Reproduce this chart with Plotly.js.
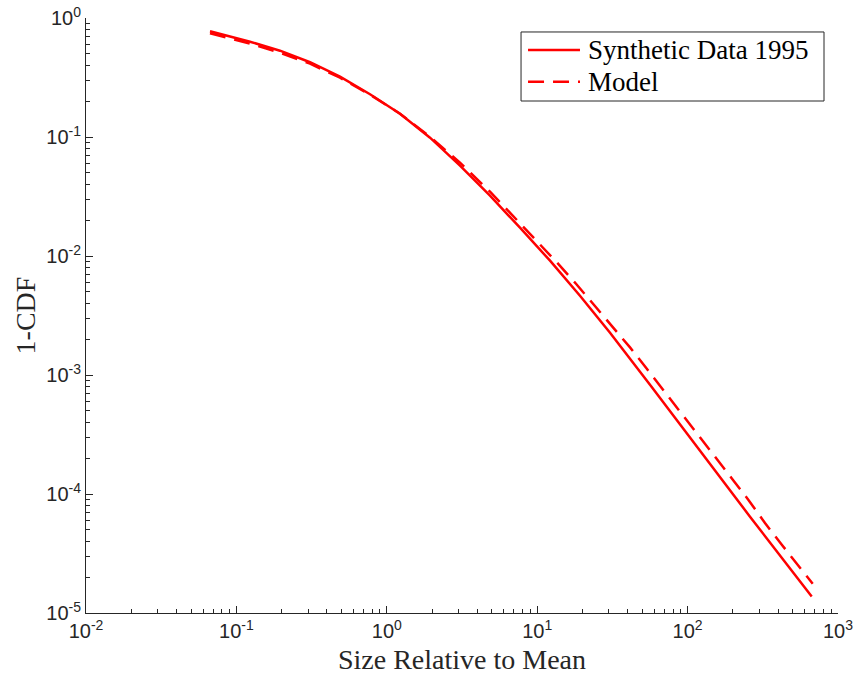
<!DOCTYPE html>
<html>
<head>
<meta charset="utf-8">
<script src="https://cdn.plot.ly/plotly-3.0.1.min.js"></script>
<style>html,body{margin:0;padding:0;background:#fff;}#chart{width:855px;height:679px;}</style>
</head>
<body>
<div id="chart"></div>
<script>
// Synthetic Data 1995 (solid)
const dataX = [0.06674, 0.1232, 0.1949, 0.3086, 0.4885, 0.7733, 1.224, 1.938, 3.067, 4.855, 7.683, 12.17, 19.25, 30.49, 56.23, 103.7, 260.0, 668.7];
const dataY = [0.7744, 0.6322, 0.5312, 0.4251, 0.3211, 0.2289, 0.1570, 0.09865, 0.05738, 0.03211, 0.01729, 0.009130, 0.004638, 0.002267, 0.0008288, 0.0002972, 0.00006446, 0.00001378];
// Model (dashed)
const modelX = [0.06674, 0.1232, 0.1949, 0.3086, 0.4885, 0.7733, 1.224, 1.938, 3.067, 4.855, 7.566, 9.377, 13.75, 18.11, 23.86, 31.44, 41.41, 53.72, 69.68, 90.39, 152.1, 197.4, 256.0, 327.0, 424.3, 550.5, 679.0];
const modelY = [0.7451, 0.6082, 0.5110, 0.4130, 0.3149, 0.2267, 0.1570, 0.1006, 0.06081, 0.03470, 0.01923, 0.01444, 0.008616, 0.005850, 0.003898, 0.002561, 0.001706, 0.001123, 0.0007381, 0.0004756, 0.0002046, 0.0001345, 0.00008785, 0.00005705, 0.00003726, 0.00002449, 0.00001762];

const seriesNames = ['Synthetic Data 1995', 'Model'];

const xTickVals = [0.01, 0.1, 1, 10, 100, 1000];
const xTickText = ['10<sup>-2</sup>', '10<sup>-1</sup>', '10<sup>0</sup>', '10<sup>1</sup>', '10<sup>2</sup>', '10<sup>3</sup>'];
const yTickVals = [0.00001, 0.0001, 0.001, 0.01, 0.1, 1];
const yTickText = ['10<sup>-5</sup>', '10<sup>-4</sup>', '10<sup>-3</sup>', '10<sup>-2</sup>', '10<sup>-1</sup>', '10<sup>0</sup>'];

const axisColor = '#262626';
const red = '#ff0000';
const tickFont = {family: 'Liberation Sans, Arial, sans-serif', size: 20, color: axisColor};
const serif = 'Liberation Serif, Times New Roman, serif';
const dashStyle = '16px,9px';

const traces = [
  {x: dataX, y: dataY, type: 'scatter', mode: 'lines', name: seriesNames[0],
   line: {color: red, width: 2.5}, showlegend: false},
  {x: modelX, y: modelY, type: 'scatter', mode: 'lines', name: seriesNames[1],
   line: {color: red, width: 2.5, dash: dashStyle}, showlegend: false}
];

// legend drawn as a boxed key (paper coordinates)
const legBox = {x0: 0.5785, x1: 0.9814, y0: 0.8605, y1: 0.9765};
const legRows = [0.9462, 0.8929];
const legSample = {x0: 0.5878, x1: 0.6569};
const legTextX = 0.6649;

const shapes = [
  {type: 'rect', xref: 'paper', yref: 'paper', x0: legBox.x0, x1: legBox.x1, y0: legBox.y0, y1: legBox.y1,
   line: {color: axisColor, width: 1}, fillcolor: '#ffffff', layer: 'above'},
  {type: 'line', xref: 'paper', yref: 'paper', x0: legSample.x0, x1: legSample.x1, y0: legRows[0], y1: legRows[0],
   line: {color: red, width: 2.5}, layer: 'above'},
  {type: 'line', xref: 'paper', yref: 'paper', x0: legSample.x0, x1: legSample.x1, y0: legRows[1], y1: legRows[1],
   line: {color: red, width: 2.5, dash: dashStyle}, layer: 'above'}
];
const annotations = seriesNames.map((n, i) => ({
  text: n, xref: 'paper', yref: 'paper', x: legTextX, y: legRows[i],
  xanchor: 'left', yanchor: 'middle', showarrow: false,
  font: {family: serif, size: 27, color: '#000000'}
}));

const layout = {
  width: 855, height: 679,
  margin: {l: 86, r: 17, t: 18, b: 66},
  paper_bgcolor: '#ffffff', plot_bgcolor: '#ffffff',
  showlegend: false,
  shapes: shapes, annotations: annotations,
  xaxis: {type: 'log', range: [-2, 3], showgrid: false, zeroline: false,
    showline: true, linecolor: axisColor, linewidth: 1, mirror: false,
    ticks: 'inside', ticklen: 7, tickcolor: axisColor, tickwidth: 1,
    tickvals: xTickVals, ticktext: xTickText, tickfont: tickFont,
    minor: {ticks: 'inside', ticklen: 4, tickcolor: axisColor, dtick: 'D1', showgrid: false},
    title: {text: 'Size Relative to Mean', font: {family: serif, size: 28, color: axisColor}, standoff: 8}},
  yaxis: {type: 'log', range: [-5, 0], showgrid: false, zeroline: false,
    showline: true, linecolor: axisColor, linewidth: 1, mirror: false,
    ticks: 'inside', ticklen: 7, tickcolor: axisColor, tickwidth: 1,
    tickvals: yTickVals, ticktext: yTickText, tickfont: tickFont,
    minor: {ticks: 'inside', ticklen: 4, tickcolor: axisColor, dtick: 'D1', showgrid: false},
    title: {text: '1-CDF', font: {family: serif, size: 28, color: axisColor}, standoff: 2}}
};

Plotly.newPlot('chart', traces, layout, {displayModeBar: false, staticPlot: true});
</script>
</body>
</html>
